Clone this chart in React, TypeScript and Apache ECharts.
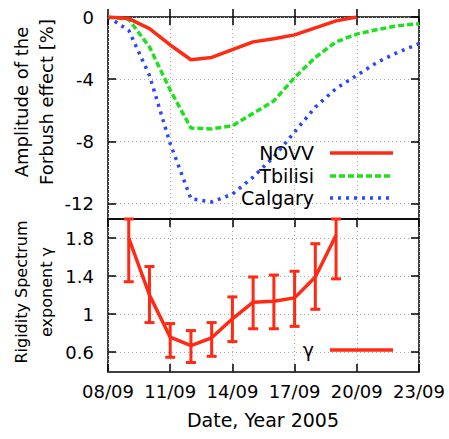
import React, { useEffect, useRef } from "react";
import * as echarts from "echarts";

const dayTicks = [8, 11, 14, 17, 20, 23];
const forbushTicks = [-12, -8, -4, 0];
const gammaTicks = [0.6, 1, 1.4, 1.8];

const novvDays = [8, 9, 10, 11, 12, 13, 14, 15, 16, 17, 18, 19, 20];
const novvValues = [0, -0.1, -0.75, -1.8, -2.75, -2.6, -2.1, -1.6, -1.4, -1.15, -0.7, -0.25, 0];

const stationDays = [8, 9, 10, 11, 12, 13, 14, 15, 16, 17, 18, 19, 20, 21, 22, 23];
const tbilisiValues = [0, -0.15, -1.93, -4.7, -7.15, -7.2, -7.0, -6.2, -5.4, -3.9, -2.6, -1.6, -1.1, -0.8, -0.56, -0.43];
const calgaryValues = [0, -0.86, -3.76, -8.15, -11.7, -11.9, -11.4, -10.3, -9.0, -7.4, -5.8, -4.6, -3.76, -2.9, -2.26, -1.72];

const gammaDays = [9, 10, 11, 12, 13, 14, 15, 16, 17, 18, 19];
const gammaValues = [1.8, 1.2, 0.756, 0.668, 0.75, 0.95, 1.125, 1.135, 1.17, 1.39, 1.83];
const gammaLow = [1.34, 0.91, 0.545, 0.49, 0.555, 0.71, 0.845, 0.845, 0.87, 1.05, 1.37];
const gammaHigh = [2.0, 1.5, 0.9, 0.826, 0.91, 1.18, 1.39, 1.41, 1.45, 1.74, 2.0];

const RED = "#ff2a14";
const GREEN = "#1ee01e";
const BLUE = "#2848ff";
const FONT = "DejaVu Sans";
const TICK_FS = 18;
const LEGEND_FS = 19;

const pad2 = (n: number) => (n < 10 ? "0" + n : "" + n);

export default function App() {
  const ref = useRef<HTMLDivElement>(null);
  useEffect(() => {
    if (!ref.current) return;
    const chart = echarts.init(ref.current, undefined, { renderer: "svg" });
    const gridLine = { show: true, lineStyle: { color: "#aaaaaa", type: [1, 3], width: 1 } };
    const tick = (vals: number[]) => ({ show: true, inside: true, length: 8, customValues: vals, lineStyle: { color: "#000", width: 1.5 } });
    const xBase = (grid: number, pos: string, labels: boolean, split: boolean) => ({
      type: "value",
      gridIndex: grid,
      position: pos,
      min: 8,
      max: 23,
      axisLine: { show: false },
      axisTick: tick(dayTicks),
      splitLine: split ? gridLine : { show: false },
      axisLabel: labels
        ? { show: true, customValues: dayTicks, margin: 10, color: "#000", fontFamily: FONT, fontSize: TICK_FS, formatter: (v: number) => pad2(v) + "/09" }
        : { show: false, customValues: dayTicks },
    });
    const yBase = (grid: number, pos: string, min: number, max: number, ticks: number[], labels: boolean, split: boolean) => ({
      type: "value",
      gridIndex: grid,
      position: pos,
      min,
      max,
      axisLine: { show: false },
      axisTick: tick(ticks),
      splitLine: split ? gridLine : { show: false },
      axisLabel: labels
        ? { show: true, customValues: ticks, margin: 14, color: "#000", fontFamily: FONT, fontSize: TICK_FS }
        : { show: false, customValues: ticks },
    });

    const legendItems: any[] = [];
    const addLegend = (label: string, y: number, color: string, dash: any) => {
      legendItems.push({
        type: "text",
        x: 314,
        y,
        style: { text: label, fill: "#000", font: `${LEGEND_FS}px "${FONT}"`, textAlign: "right", textVerticalAlign: "middle" },
        z: 100,
      });
      legendItems.push({
        type: "line",
        shape: { x1: 330, y1: y, x2: 393, y2: y },
        style: { stroke: color, lineWidth: 3.5, lineDash: dash },
        z: 100,
      });
    };
    addLegend("NOVV", 153, RED, null);
    addLegend("Tbilisi", 176, GREEN, [6, 3]);
    addLegend("Calgary", 198, BLUE, [3, 5]);
    addLegend("γ", 350, RED, null);

    chart.setOption({
      animation: false,
      backgroundColor: "#fff",
      grid: [
        { left: 108, top: 17, width: 311, height: 202, show: true, borderColor: "#000", borderWidth: 1.5, backgroundColor: "transparent" },
        { left: 108, top: 219, width: 311, height: 153, show: true, borderColor: "#000", borderWidth: 1.5, backgroundColor: "transparent" },
      ],
      xAxis: [
        xBase(0, "bottom", false, true),
        xBase(0, "top", false, false),
        xBase(1, "bottom", true, true),
        xBase(1, "top", false, false),
      ],
      yAxis: [
        yBase(0, "left", -13, 0, forbushTicks, true, true),
        yBase(0, "right", -13, 0, forbushTicks, false, false),
        yBase(1, "left", 0.39, 2.0, gammaTicks, true, true),
        yBase(1, "right", 0.39, 2.0, gammaTicks, false, false),
      ],
      series: [
        {
          name: "NOVV",
          type: "line",
          xAxisIndex: 0,
          yAxisIndex: 0,
          data: novvDays.map((d, i) => [d, novvValues[i]]),
          showSymbol: false,
          lineStyle: { color: RED, width: 3.5 },
          z: 5,
        },
        {
          name: "Tbilisi",
          type: "line",
          xAxisIndex: 0,
          yAxisIndex: 0,
          data: stationDays.map((d, i) => [d, tbilisiValues[i]]),
          showSymbol: false,
          lineStyle: { color: GREEN, width: 3.5, type: [6, 3] },
          z: 4,
        },
        {
          name: "Calgary",
          type: "line",
          xAxisIndex: 0,
          yAxisIndex: 0,
          data: stationDays.map((d, i) => [d, calgaryValues[i]]),
          showSymbol: false,
          lineStyle: { color: BLUE, width: 3.5, type: [3, 5] },
          z: 3,
        },
        {
          name: "γ",
          type: "line",
          xAxisIndex: 2,
          yAxisIndex: 2,
          data: gammaDays.map((d, i) => [d, gammaValues[i]]),
          showSymbol: false,
          lineStyle: { color: RED, width: 3.5 },
          z: 5,
        },
        {
          name: "γ error",
          type: "custom",
          xAxisIndex: 2,
          yAxisIndex: 2,
          data: gammaDays.map((d, i) => [d, gammaLow[i], gammaHigh[i]]),
          encode: { x: 0, y: [1, 2] },
          z: 6,
          renderItem: (params: any, api: any) => {
            const x = api.value(0);
            const lo = api.coord([x, api.value(1)]);
            const hi = api.coord([x, api.value(2)]);
            const w = 5;
            const style = { stroke: RED, lineWidth: 3 };
            return {
              type: "group",
              children: [
                { type: "line", shape: { x1: lo[0], y1: lo[1], x2: hi[0], y2: hi[1] }, style },
                { type: "line", shape: { x1: lo[0] - w, y1: lo[1], x2: lo[0] + w, y2: lo[1] }, style },
                { type: "line", shape: { x1: hi[0] - w, y1: hi[1], x2: hi[0] + w, y2: hi[1] }, style },
              ],
            };
          },
        },
      ],
      graphic: [
        {
          type: "text",
          x: 34,
          y: 102,
          rotation: Math.PI / 2,
          style: {
            text: "Amplitude of the\nForbush effect [%]",
            fill: "#000",
            font: `18px "${FONT}"`,
            textAlign: "center",
            textVerticalAlign: "middle",
            lineHeight: 25,
          },
        },
        {
          type: "text",
          x: 34,
          y: 292,
          rotation: Math.PI / 2,
          style: {
            text: "Rigidity Spectrum\nexponent γ",
            fill: "#000",
            font: `16px "${FONT}"`,
            textAlign: "center",
            textVerticalAlign: "middle",
            lineHeight: 25,
          },
        },
        {
          type: "text",
          x: 263,
          y: 420,
          style: {
            text: "Date, Year 2005",
            fill: "#000",
            font: `19px "${FONT}"`,
            textAlign: "center",
            textVerticalAlign: "middle",
          },
        },
        ...legendItems,
      ],
    });
    return () => chart.dispose();
  }, []);
  return <div ref={ref} style={{ position: "fixed", left: 0, top: 0, width: 449, height: 439 }} />;
}
